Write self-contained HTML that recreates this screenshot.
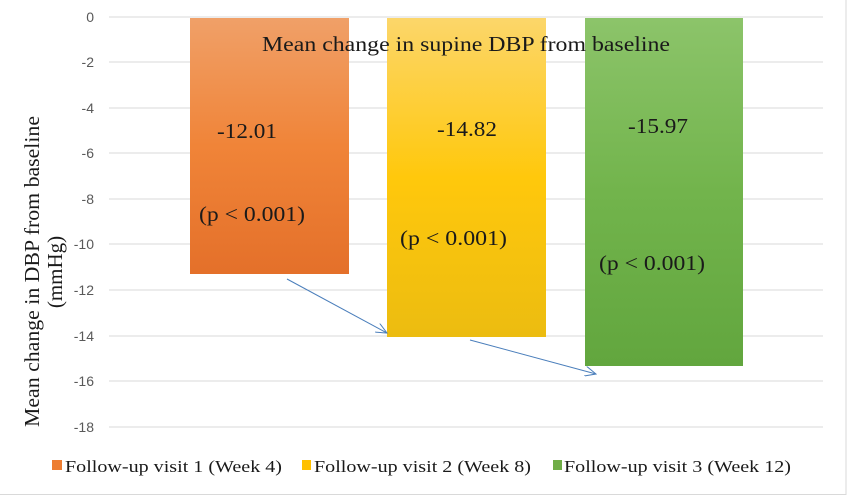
<!DOCTYPE html><html><head><style>body{margin:0;background:#fff}svg{display:block}</style></head><body>
<svg width="850" height="498" viewBox="0 0 850 498" xmlns="http://www.w3.org/2000/svg">
<defs>
<linearGradient id="o" x1="0" y1="0" x2="0" y2="1"><stop offset="0" stop-color="#f0a068"/><stop offset=".5" stop-color="#f08438"/><stop offset="1" stop-color="#e4702a"/></linearGradient>
<linearGradient id="y" x1="0" y1="0" x2="0" y2="1"><stop offset="0" stop-color="#fcd66a"/><stop offset=".5" stop-color="#ffc80c"/><stop offset="1" stop-color="#ecbc10"/></linearGradient>
<linearGradient id="g" x1="0" y1="0" x2="0" y2="1"><stop offset="0" stop-color="#8cc46a"/><stop offset=".5" stop-color="#72b44c"/><stop offset="1" stop-color="#62a63e"/></linearGradient>
<marker id="a" markerWidth="12" markerHeight="10" refX="11" refY="5" orient="auto" markerUnits="userSpaceOnUse"><path d="M0,0 L11,5 L0,10" fill="none" stroke="#4a7ebb" stroke-width="1"/></marker>
</defs>
<rect x="0" y="0" width="850" height="498" fill="#fff"/>
<line x1="846" y1="0" x2="846" y2="495" stroke="#d9d9d9"/>
<line x1="0" y1="494.5" x2="846" y2="494.5" stroke="#d9d9d9"/>
<g stroke="#d9d9d9" stroke-width="1">
<line x1="109" x2="823" y1="17" y2="17"/><line x1="109" x2="823" y1="62" y2="62"/><line x1="109" x2="823" y1="108" y2="108"/><line x1="109" x2="823" y1="153" y2="153"/><line x1="109" x2="823" y1="199" y2="199"/><line x1="109" x2="823" y1="244" y2="244"/><line x1="109" x2="823" y1="290" y2="290"/><line x1="109" x2="823" y1="336" y2="336"/><line x1="109" x2="823" y1="381" y2="381"/><line x1="109" x2="823" y1="427" y2="427"/>
</g>
<g font-family="Liberation Sans,sans-serif" font-size="14" fill="#595959" text-anchor="end">
<text x="94" y="22">0</text><text x="94" y="67">-2</text><text x="94" y="113">-4</text><text x="94" y="158">-6</text><text x="94" y="204">-8</text><text x="94" y="249">-10</text><text x="94" y="295">-12</text><text x="94" y="341">-14</text><text x="94" y="386">-16</text><text x="94" y="432">-18</text>
</g>
<rect x="190" y="18" width="159" height="256" fill="url(#o)"/>
<rect x="387" y="18" width="159" height="319" fill="url(#y)"/>
<rect x="585" y="18" width="158" height="348" fill="url(#g)"/>
<line x1="287" y1="279" x2="387" y2="333" stroke="#4a7ebb" stroke-width="1" marker-end="url(#a)"/>
<line x1="470" y1="340" x2="596" y2="374" stroke="#4a7ebb" stroke-width="1" marker-end="url(#a)"/>
<g font-family="Liberation Serif,serif" fill="#1a1a1a">
<text x="262" y="51" font-size="21" textLength="408" lengthAdjust="spacingAndGlyphs">Mean change in supine DBP from baseline</text>
<g font-size="21">
<text x="217" y="138" textLength="60" lengthAdjust="spacingAndGlyphs">-12.01</text><text x="199" y="221" textLength="106" lengthAdjust="spacingAndGlyphs">(p &lt; 0.001)</text>
<text x="437" y="136" textLength="60" lengthAdjust="spacingAndGlyphs">-14.82</text><text x="400" y="245" textLength="107" lengthAdjust="spacingAndGlyphs">(p &lt; 0.001)</text>
<text x="628" y="133" textLength="60" lengthAdjust="spacingAndGlyphs">-15.97</text><text x="599" y="270" textLength="106" lengthAdjust="spacingAndGlyphs">(p &lt; 0.001)</text>
</g>
<g font-size="21" transform="translate(40,272) rotate(-90)">
<text x="-155" y="-1" textLength="311" lengthAdjust="spacingAndGlyphs">Mean change in DBP from baseline</text><text x="0" y="22" text-anchor="middle">(mmHg)</text>
</g>
<g font-size="17">
<rect x="52" y="460" width="10" height="10" fill="#ed7d31"/><text x="65" y="472" textLength="217" lengthAdjust="spacingAndGlyphs">Follow-up visit 1 (Week 4)</text>
<rect x="302" y="460" width="9" height="10" fill="#ffc000"/><text x="314" y="472" textLength="217" lengthAdjust="spacingAndGlyphs">Follow-up visit 2 (Week 8)</text>
<rect x="553" y="460" width="9" height="10" fill="#70ad47"/><text x="564" y="472" textLength="227" lengthAdjust="spacingAndGlyphs">Follow-up visit 3 (Week 12)</text>
</g>
</g>
</svg>
</body></html>
